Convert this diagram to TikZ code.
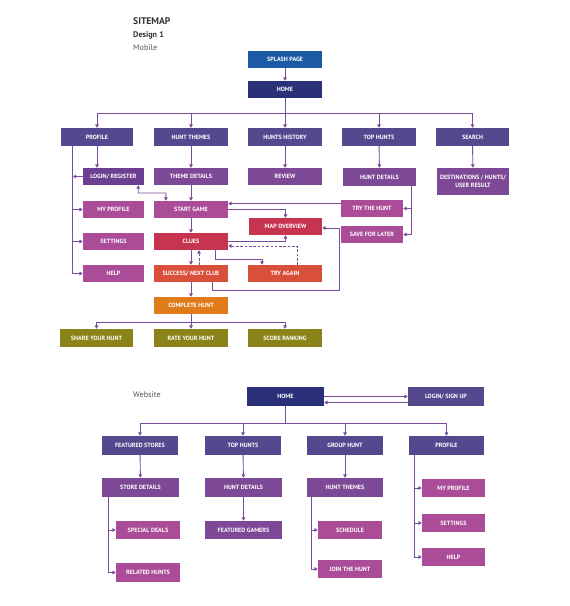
\documentclass[tikz,border=0pt]{standalone}
\usepackage{fontspec}
\setmainfont{PT Sans}
\usetikzlibrary{arrows.meta,calc}
\definecolor{cblue}{HTML}{1D5AA6}
\definecolor{cnavy}{HTML}{2B3179}
\definecolor{cslate}{HTML}{54488F}
\definecolor{cdpurp}{HTML}{6C3F92}
\definecolor{cpurp}{HTML}{7D4895}
\definecolor{cmag}{HTML}{AA4C98}
\definecolor{cred}{HTML}{C6344F}
\definecolor{corr}{HTML}{D8503A}
\definecolor{corange}{HTML}{E07B1B}
\definecolor{colive}{HTML}{8A8418}
\definecolor{cline}{HTML}{7B4C9B}
\tikzset{
  bxs/.style={rectangle,inner sep=0pt,text=white,align=center,
    font=\bfseries\fontsize{6.1}{8}\selectfont},
  conn/.style={draw=cline,line width=0.9pt},
  arr/.style={conn,-{Triangle[length=3.4pt,width=3.6pt]}},
  darr/.style={conn,{Triangle[length=3.4pt,width=3.6pt]}-{Triangle[length=3.4pt,width=3.6pt]}},
  dsh/.style={dash pattern=on 2.5pt off 1.8pt}
}
\newcommand\bx[7]{\node[bxs,fill=#6,minimum width={(#4-#2)*1pt},minimum height={(#5-#3)*1pt}] (#1) at ({(#2+#4)/2},{(#3+#5)/2}) {#7};}
\begin{document}
\begin{tikzpicture}[x=1pt,y=-1pt]
\fill[white] (0,0) rectangle (570,606);
\useasboundingbox (0,0) rectangle (570,606);
% titles
\node[anchor=west,inner sep=0pt,font=\bfseries\fontsize{9.6}{11}\selectfont,text=black!80] (t1) at (133,21) {SITEMAP};
\node[anchor=west,inner sep=0pt,font=\bfseries\fontsize{8.2}{10}\selectfont,text=black!80] (t2) at (133,35) {Design 1};
\node[anchor=west,inner sep=0pt,font=\fontsize{8.2}{10}\selectfont,text=black!65] (t3) at (133,48) {Mobile};
\node[anchor=west,inner sep=0pt,font=\fontsize{8.2}{10}\selectfont,text=black!65] (t4) at (133,395) {Website};
% mobile boxes
\bx{splash}{248}{51}{322}{68}{cblue}{SPLASH PAGE}
\bx{home}{248}{81}{322}{98}{cnavy}{HOME}
\bx{profile}{61}{128}{133}{146}{cslate}{PROFILE}
\bx{themes}{154}{128}{228}{146}{cslate}{HUNT THEMES}
\bx{history}{248}{128}{322}{146}{cslate}{HUNTS HISTORY}
\bx{tophunts}{342}{128}{416}{146}{cslate}{TOP HUNTS}
\bx{search}{436}{128}{509}{146}{cslate}{SEARCH}
\bx{login}{83}{168}{144}{185}{cdpurp}{LOGIN/ REGISTER}
\bx{themedet}{154}{168}{228}{185}{cpurp}{THEME DETAILS}
\bx{review}{248}{168}{322}{185}{cpurp}{REVIEW}
\bx{huntdet}{343}{168}{416}{186}{cpurp}{HUNT DETAILS}
\bx{dest}{437}{168}{509}{195}{cpurp}{DESTINATIONS / HUNTS/\\USER RESULT}
\bx{myprof}{83}{201}{144}{218}{cmag}{MY PROFILE}
\bx{settings}{83}{233}{144}{250}{cmag}{SETTINGS}
\bx{help}{83}{265}{144}{282}{cmag}{HELP}
\bx{start}{154}{201}{228}{218}{cmag}{START GAME}
\bx{clues}{154}{233}{228}{250}{cred}{CLUES}
\bx{success}{154}{265}{228}{282}{corr}{SUCCESS/ NEXT CLUE}
\bx{map}{249}{218}{322}{235}{cred}{MAP OVERVIEW}
\bx{tryagain}{248}{265}{322}{282}{corr}{TRY AGAIN}
\bx{tryhunt}{341}{200}{403}{217}{cmag}{TRY THE HUNT}
\bx{save}{341}{226}{403}{243}{cmag}{SAVE FOR LATER}
\bx{complete}{154}{297}{228}{314}{corange}{COMPLETE HUNT}
\bx{share}{60}{329}{133}{347}{colive}{SHARE YOUR HUNT}
\bx{rate}{154}{329}{228}{347}{colive}{RATE YOUR HUNT}
\bx{score}{248}{329}{322}{347}{colive}{SCORE RANKING}
% mobile connectors
\draw[arr] (splash) -- (home);
\coordinate (mbus) at (285,113);
\draw[conn] (home.south) -- (mbus);
\foreach \n in {profile,themes,history,tophunts,search} \draw[arr] (mbus) -| (\n.north);
\draw[arr] (profile.south) -- (profile.south |- login.north);
\coordinate (pl) at ([xshift=12pt]profile.south west);
\draw[arr] (pl) |- (help.west);
\draw[arr] (pl |- myprof.west) -- (myprof.west);
\draw[arr] (pl |- settings.west) -- (settings.west);
\draw[arr] (login.west) -- (pl |- login.west);
\draw[arr] (themes) -- (themedet);
\draw[arr] (themedet) -- (start);
\draw[arr] (history) -- (review);
\draw[arr] (tophunts) -- (huntdet);
\draw[arr] (search) -- (dest);
\coordinate (ls) at (166,193);
\draw[darr] ([xshift=-6pt]login.south east) |- (ls) -- ([xshift=12pt]start.north west);
\coordinate (hdc) at ([xshift=-5pt]huntdet.south east);
\draw[arr] (hdc) |- (save.east);
\draw[arr] (hdc |- tryhunt.east) -- (tryhunt.east);
\coordinate (th) at ([yshift=5pt]tryhunt.west);
\draw[arr] (th) -- (th -| start.east);
\draw[arr] (start.east) -| (map.north);
\draw[arr] (clues.east) -| (map.south);
\draw[arr,dsh] ([xshift=-25pt]tryagain.north east) |- ([yshift=-4.5pt]clues.east);
\coordinate (c2) at (262,259);
\draw[arr] ([xshift=-13pt]clues.south east) |- (c2) -- (c2 |- tryagain.north);
\draw[arr] (start) -- (clues);
\draw[arr] (clues) -- (success);
\draw[arr,dsh] ([xshift=8pt]success.north) -- ([xshift=8pt]clues.south);
\coordinate (s2) at (339,290);
\draw[arr] ([xshift=-16pt]success.south east) |- (s2) |- ([yshift=-1.5pt]map.east);
\draw[arr] (success) -- (complete);
\coordinate (cbus) at (191,322);
\draw[conn] (complete.south) -- (cbus);
\foreach \n in {share,rate,score} \draw[arr] (cbus) -| (\n.north);
% website boxes
\bx{whome}{247}{387}{324}{406}{cnavy}{HOME}
\bx{wlogin}{408}{387}{484}{406}{cslate}{LOGIN/ SIGN UP}
\bx{wfeat}{102}{436}{178}{455}{cslate}{FEATURED STORES}
\bx{wtop}{205}{436}{281}{455}{cslate}{TOP HUNTS}
\bx{wgroup}{307}{436}{383}{455}{cslate}{GROUP HUNT}
\bx{wprof}{409}{436}{484}{455}{cslate}{PROFILE}
\bx{wstore}{102}{478}{179}{497}{cpurp}{STORE DETAILS}
\bx{whdet}{205}{478}{282}{497}{cpurp}{HUNT DETAILS}
\bx{wthemes}{307}{478}{383}{497}{cpurp}{HUNT THEMES}
\bx{wspecial}{116}{521}{180}{539}{cmag}{SPECIAL DEALS}
\bx{wrelated}{116}{563}{180}{582}{cmag}{RELATED HUNTS}
\bx{wgamers}{205}{521}{282}{539}{cpurp}{FEATURED GAMERS}
\bx{wsched}{318}{521}{382}{539}{cmag}{SCHEDULE}
\bx{wjoin}{318}{560}{382}{578}{cmag}{JOIN THE HUNT}
\bx{wmyprof}{422}{479}{485}{497}{cmag}{MY PROFILE}
\bx{wsettings}{422}{514}{485}{532}{cmag}{SETTINGS}
\bx{whelp}{422}{548}{485}{566}{cmag}{HELP}
% website connectors
\draw[arr] (whome.east) -- (wlogin.west);
\draw[arr] ([yshift=-6pt]wlogin.west) -- ([yshift=-6pt]whome.east);
\coordinate (wbus) at (285.5,423);
\draw[conn] (whome.south) -- (wbus);
\foreach \n in {wfeat,wtop,wgroup,wprof} \draw[arr] (wbus) -| (\n.north);
\draw[arr] (wfeat) -- (wstore);
\draw[arr] (wtop) -- (whdet);
\draw[arr] (wgroup) -- (wthemes);
\draw[arr] (whdet) -- (wgamers);
\coordinate (sd) at ([xshift=7pt]wstore.south west);
\draw[arr] (sd) |- (wrelated.west);
\draw[arr] (sd |- wspecial.west) -- (wspecial.west);
\coordinate (td) at ([xshift=5pt]wthemes.south west);
\draw[arr] (td) |- (wjoin.west);
\draw[arr] (td |- wsched.west) -- (wsched.west);
\coordinate (pd) at ([xshift=6pt]wprof.south west);
\draw[arr] (pd) |- (whelp.west);
\draw[arr] (pd |- wmyprof.west) -- (wmyprof.west);
\draw[arr] (pd |- wsettings.west) -- (wsettings.west);
\end{tikzpicture}
\end{document}
